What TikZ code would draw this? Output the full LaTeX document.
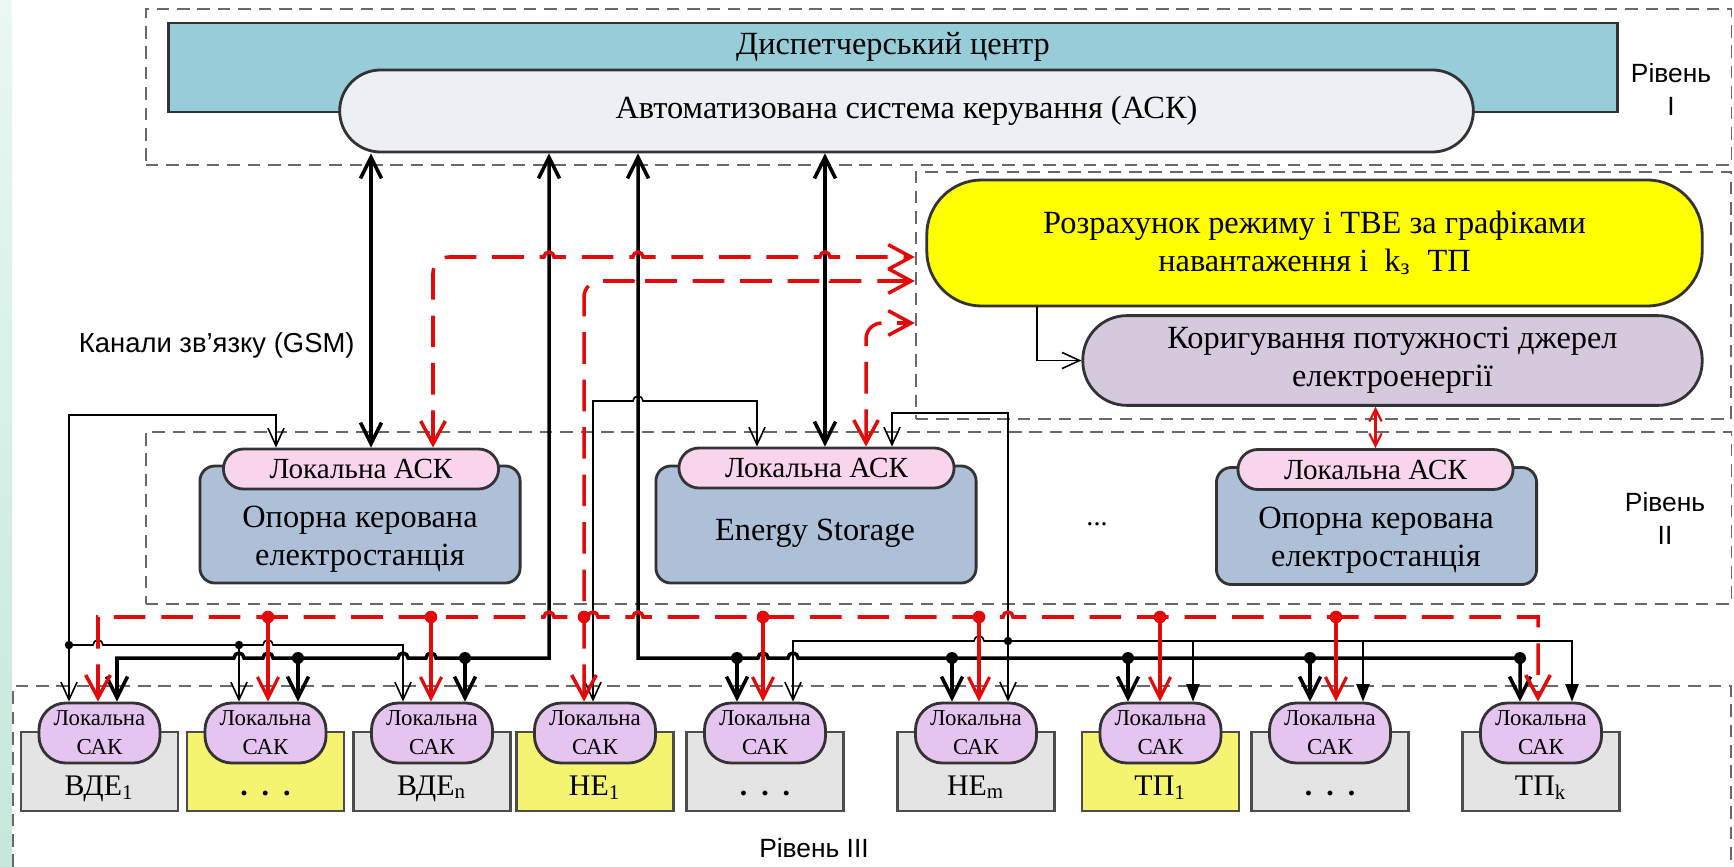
\documentclass[tikz,border=0pt]{standalone}
\usepackage{fontspec}
\setmainfont{Liberation Serif}
\setsansfont{Liberation Sans}
\usepackage{tikz}
\usetikzlibrary{arrows.meta}

\definecolor{dispteal}{RGB}{150,205,216}
\definecolor{ackgray}{RGB}{236,239,244}
\definecolor{calcyellow}{RGB}{255,255,0}
\definecolor{corrlilac}{RGB}{214,200,221}
\definecolor{stationblue}{RGB}{173,192,216}
\definecolor{ackpink}{RGB}{248,213,236}
\definecolor{sakviolet}{RGB}{229,196,240}
\definecolor{unitgray}{RGB}{228,228,228}
\definecolor{unityellow}{RGB}{244,244,112}
\definecolor{linkred}{RGB}{226,10,10}
\definecolor{framegray}{RGB}{105,105,105}
\definecolor{slidemint}{RGB}{196,232,219}

\begin{document}
\begin{tikzpicture}[
    x=0.01cm,y=-0.01cm,
    font=\fontsize{9.2}{10.8}\selectfont,
    level/.style={draw=framegray,line width=0.55pt,dash pattern=on 3.6pt off 2.2pt},
    levelname/.style={font=\sffamily\fontsize{7.5}{9.4}\selectfont,align=center},
    dispbox/.style={draw=black!80,line width=0.8pt,fill=dispteal,minimum width=14.48cm,minimum height=0.89cm},
    ackbox/.style={draw=black!80,line width=0.8pt,fill=ackgray,rounded corners=0.41cm,minimum width=11.33cm,minimum height=0.82cm},
    calcbox/.style={draw=black!80,line width=0.8pt,fill=calcyellow,rounded corners=0.55cm,minimum width=7.75cm,minimum height=1.26cm,align=center},
    corrbox/.style={draw=black!80,line width=0.8pt,fill=corrlilac,rounded corners=0.44cm,minimum width=6.19cm,minimum height=0.89cm,align=center},
    station/.style={draw=black!80,line width=0.8pt,fill=stationblue,rounded corners=0.15cm,minimum width=3.2cm,minimum height=1.17cm},
    stationtext/.style={align=center},
    localack/.style={draw=black!80,line width=0.8pt,fill=ackpink,rounded corners=0.2cm,minimum width=2.75cm,minimum height=0.4cm,inner sep=0pt,font=\fontsize{8.3}{10}\selectfont},
    unit/.style={draw=black!70,line width=0.7pt,fill=#1,minimum width=1.57cm,minimum height=0.79cm},
    sak/.style={draw=black!80,line width=0.8pt,fill=sakviolet,rounded corners=0.27cm,minimum width=1.21cm,minimum height=0.6cm,inner sep=0pt,align=center,font=\fontsize{6.5}{8.3}\selectfont},
    unitname/.style={anchor=base,font=\fontsize{8.5}{10}\selectfont},
    chan/.style={line width=1pt,>={Straight Barb[length=6pt,width=6pt]}},
    feed/.style={line width=0.45pt,>={Straight Barb[length=5pt,width=4.6pt]}},
    feedfill/.style={line width=0.45pt,>={Triangle[length=5pt,width=3.8pt]}},
    redlink/.style={draw=linkred,line width=1pt,dash pattern=on 9pt off 4.5pt,>={Straight Barb[length=6.5pt,width=7pt]}},
    reddrop/.style={draw=linkred,line width=0.9pt,>={Straight Barb[length=6pt,width=6pt]}},
    redsync/.style={draw=linkred,line width=0.6pt,>={Straight Barb[length=3.5pt,width=3.5pt]}}
  ]
    \useasboundingbox (0,0) rectangle (1734,867);
    \fill[white] (0,0) rectangle (1734,867);
    \shade[top color=slidemint!35,bottom color=slidemint] (0,0) rectangle (12,867);

    % levels
    \node[level,minimum width=15.85cm,minimum height=1.56cm] (lvl1) at (938.5,87) {};
    \node[level,minimum width=8.15cm,minimum height=2.47cm] (calcarea) at (1323.5,295.5) {};
    \node[level,minimum width=15.85cm,minimum height=1.72cm] (lvl2) at (938.5,518) {};
    \draw[level] (13,867) -- (13,686) -- (1731,686) -- (1731,867);
    \node[levelname] (lev1) at (1671,89) {Рівень\\I};
    \node[levelname] (lev2) at (1665,518) {Рівень\\II};
    \node[levelname] (lev3) at (814,848) {Рівень III};
    \node[levelname,font=\sffamily\fontsize{7.8}{9.4}\selectfont,anchor=east] (gsm) at (367,345) {Канали зв’язку (GSM)};

    \node[dispbox] (disp) at (893,67.5) {};
    \node (dispname) at ([yshift=-0.25cm]disp.north) {Диспетчерський центр};
    \node[ackbox] (ack) at (906.5,111) {Автоматизована система керування (АСК)};

    \node[calcbox] (calc) at (1314.5,243) {Розрахунок режиму і ТВЕ за графіками\\навантаження і\ \ k\textsubscript{з}\ \ ТП};
    \node[corrbox] (corr) at (1392.5,360.5) {Коригування потужності джерел\\електроенергії};

    \node[station] (st1) at (360,524.5) {};
    \node[localack] (ack1) at (361,469) {Локальна АСК};
    \node[stationtext] (st1name) at (360,539) {Опорна керована\\електростанція};
    \node[station] (st2) at (816,524.5) {};
    \node[localack] (ack2) at (816.5,468) {Локальна АСК};
    \node (st2name) at (815,533) {Energy Storage};
    \node[station] (st3) at (1376.5,526) {};
    \node[localack] (ack3) at (1375.5,469.5) {Локальна АСК};
    \node[stationtext] (st3name) at (1376,540) {Опорна керована\\електростанція};
    \node[font=\fontsize{8}{9}\selectfont] (more2) at (1097,524) {...};

    \node[unit=unitgray] (u1) at (99.5,771.5) {};
    \node[sak] (s1) at (99.5,733) {Локальна\\САК};
    \node[unitname] (n1) at (99.5,795) {ВДЕ\textsubscript{1}};
    \node[unit=unityellow] (u2) at (265.5,771.5) {};
    \node[sak] (s2) at (265.5,733) {Локальна\\САК};
    \node[unitname] (n2) at (265.5,795) {\textbf{.\hspace{0.14cm}.\hspace{0.14cm}.}};
    \node[unit=unitgray] (u3) at (432,771.5) {};
    \node[sak] (s3) at (432,733) {Локальна\\САК};
    \node[unitname] (n3) at (432,795) {ВДЕ\textsubscript{n}};
    \node[unit=unityellow] (u4) at (595,771.5) {};
    \node[sak] (s4) at (595,733) {Локальна\\САК};
    \node[unitname] (n4) at (595,795) {НЕ\textsubscript{1}};
    \node[unit=unitgray] (u5) at (765,771.5) {};
    \node[sak] (s5) at (765,733) {Локальна\\САК};
    \node[unitname] (n5) at (765,795) {\textbf{.\hspace{0.14cm}.\hspace{0.14cm}.}};
    \node[unit=unitgray] (u6) at (976,771.5) {};
    \node[sak] (s6) at (976,733) {Локальна\\САК};
    \node[unitname] (n6) at (976,795) {НЕ\textsubscript{m}};
    \node[unit=unityellow] (u7) at (1160.5,771.5) {};
    \node[sak] (s7) at (1160.5,733) {Локальна\\САК};
    \node[unitname] (n7) at (1160.5,795) {ТП\textsubscript{1}};
    \node[unit=unitgray] (u8) at (1330,771.5) {};
    \node[sak] (s8) at (1330,733) {Локальна\\САК};
    \node[unitname] (n8) at (1330,795) {\textbf{.\hspace{0.14cm}.\hspace{0.14cm}.}};
    \node[unit=unitgray] (u9) at (1541,771.5) {};
    \node[sak] (s9) at (1541,733) {Локальна\\САК};
    \node[unitname] (n9) at (1541,795) {ТП\textsubscript{k}};

    % channels and buses
    \coordinate (chA) at (371,0);
    \coordinate (chB) at (549,0);
    \coordinate (chC) at (638,0);
    \coordinate (chD) at (825,0);
    \coordinate (k1) at (117,658);
    \coordinate (k2) at (298,658);
    \coordinate (k3) at (465,658);
    \coordinate (k5) at (737,658);
    \coordinate (k6) at (952,658);
    \coordinate (k7) at (1128,658);
    \coordinate (k8) at (1310,658);
    \coordinate (k9) at (1520,658);
    \coordinate (t1) at (69,645);
    \coordinate (t2) at (239,645);
    \coordinate (t3) at (403,645);
    \coordinate (t1top) at (69,415);
    \coordinate (t1ack) at (276,415);
    \coordinate (p4) at (593,401);
    \coordinate (p4ack) at (757,401);
    \coordinate (m5) at (793,641);
    \coordinate (m6) at (1008,641);
    \coordinate (m7) at (1193,641);
    \coordinate (m8) at (1363,641);
    \coordinate (m9) at (1572,641);
    \coordinate (m6top) at (1008,413);
    \coordinate (m6ack) at (892,413);
    \coordinate (q1) at (98,617);
    \coordinate (q2) at (268,617);
    \coordinate (q3) at (431,617);
    \coordinate (q4) at (584,617);
    \coordinate (q5) at (763,617);
    \coordinate (q6) at (979,617);
    \coordinate (q7) at (1160,617);
    \coordinate (q8) at (1336,617);
    \coordinate (q9) at (1538,617);
    \coordinate (r1) at (433,257);
    \coordinate (r2) at (584,281);
    \coordinate (r3) at (866,323);

    \draw[feed,->] ([xshift=-2.775cm]calc.south) |- (corr.west);

    \draw[chan,<->] (ack.south -| chA) -- (ack1.north -| chA);
    \draw[chan,<->] (ack.south -| chD) -- (ack2.north -| chD);
    \draw[chan,<->] (ack.south -| chB) -- (chB |- k1)
      -- (436,658) arc[start angle=0,end angle=180,radius=0.05cm]
      -- (408,658) arc[start angle=0,end angle=180,radius=0.05cm]
      -- (273,658) arc[start angle=0,end angle=180,radius=0.05cm]
      -- (244,658) arc[start angle=0,end angle=180,radius=0.05cm]
      -- (k1) -- (s1.north -| k1);
    \draw[chan,<->] (ack.south -| chC) -- (chC |- k5)
      -- (758,658) arc[start angle=180,end angle=0,radius=0.05cm]
      -- (788,658) arc[start angle=180,end angle=0,radius=0.05cm]
      -- (k9) -- (s9.north -| k9);
    \draw[chan,->] (k2) -- (s2.north -| k2);
    \draw[chan,->] (k3) -- (s3.north -| k3);
    \draw[chan,->] (k5) -- (s5.north -| k5);
    \draw[chan,->] (k6) -- (s6.north -| k6);
    \draw[chan,->] (k7) -- (s7.north -| k7);
    \draw[chan,->] (k8) -- (s8.north -| k8);
    \fill (k2) circle (1.7pt) (k3) circle (1.7pt) (k5) circle (1.7pt) (k6) circle (1.7pt)
      (k7) circle (1.7pt) (k8) circle (1.7pt) (k9) circle (1.7pt);

    \draw[feed,<->] (s1.north -| t1) -- (t1top) -- (t1ack) -- (ack1.north -| t1ack);
    \draw[feed,->] (t1) -- (93,645) arc[start angle=180,end angle=0,radius=0.05cm]
      -- (263,645) arc[start angle=180,end angle=0,radius=0.05cm]
      -- (t3) -- (s3.north -| t3);
    \draw[feed,->] (t2) -- (s2.north -| t2);
    \fill (t1) circle (1.2pt) (t2) circle (1.2pt);

    \draw[feed,<->] (s4.north -| p4) -- (p4)
      -- (633,401) arc[start angle=180,end angle=0,radius=0.05cm]
      -- (p4ack) -- (ack2.north -| p4ack);

    \draw[feed,<->] (ack2.north -| m6ack) -- (m6ack) -- (m6top) -- (s6.north -| m6top);
    \draw[feed,->] (m6) -- (984,641) arc[start angle=0,end angle=180,radius=0.05cm]
      -- (m5) -- (s5.north -| m5);
    \draw[feedfill,->] (m6) -- (m9) -- (s9.north -| m9);
    \draw[feedfill,->] (m7) -- (s7.north -| m7);
    \draw[feedfill,->] (m8) -- (s8.north -| m8);
    \fill (m6) circle (1.2pt);

    % red links
    \draw[redlink,<->] (ack1.north -| r1) [rounded corners=0.16cm] -- (r1) [sharp corners]
      -- (544,257) arc[start angle=180,end angle=0,radius=0.05cm]
      -- (633,257) arc[start angle=180,end angle=0,radius=0.05cm]
      -- (820,257) arc[start angle=180,end angle=0,radius=0.05cm]
      -- (calcarea.west |- r1);
    \draw[redlink,<->] (s4.north -| r2) [rounded corners=0.16cm] -- (r2) [sharp corners]
      -- (633,281) arc[start angle=180,end angle=0,radius=0.05cm]
      -- (820,281) arc[start angle=180,end angle=0,radius=0.05cm]
      -- (calcarea.west |- r2);
    \draw[redlink,<->,rounded corners=0.16cm] (ack2.north -| r3) -- (r3) -- (calcarea.west |- r3);
    \draw[redlink,<->] (s1.north -| q1) -- (q1)
      -- (544,617) arc[start angle=180,end angle=0,radius=0.05cm]
      -- (588,617) arc[start angle=180,end angle=0,radius=0.05cm]
      -- (633,617) arc[start angle=180,end angle=0,radius=0.05cm]
      -- (1003,617) arc[start angle=180,end angle=0,radius=0.05cm]
      -- (q9) -- (s9.north -| q9);
    \draw[reddrop,->] (q2) -- (s2.north -| q2);
    \draw[reddrop,->] (q3) -- (s3.north -| q3);
    \draw[reddrop,->] (q5) -- (s5.north -| q5);
    \draw[reddrop,->] (q6) -- (s6.north -| q6);
    \draw[reddrop,->] (q7) -- (s7.north -| q7);
    \draw[reddrop,->] (q8) -- (s8.north -| q8);
    \fill[linkred] (q2) circle (1.8pt) (q3) circle (1.8pt) (q4) circle (1.8pt) (q5) circle (1.8pt)
      (q6) circle (1.8pt) (q7) circle (1.8pt) (q8) circle (1.8pt);
    \draw[redsync,<->] (corr.south -| ack3.north) -- (ack3.north);
  \end{tikzpicture}
\end{document}
